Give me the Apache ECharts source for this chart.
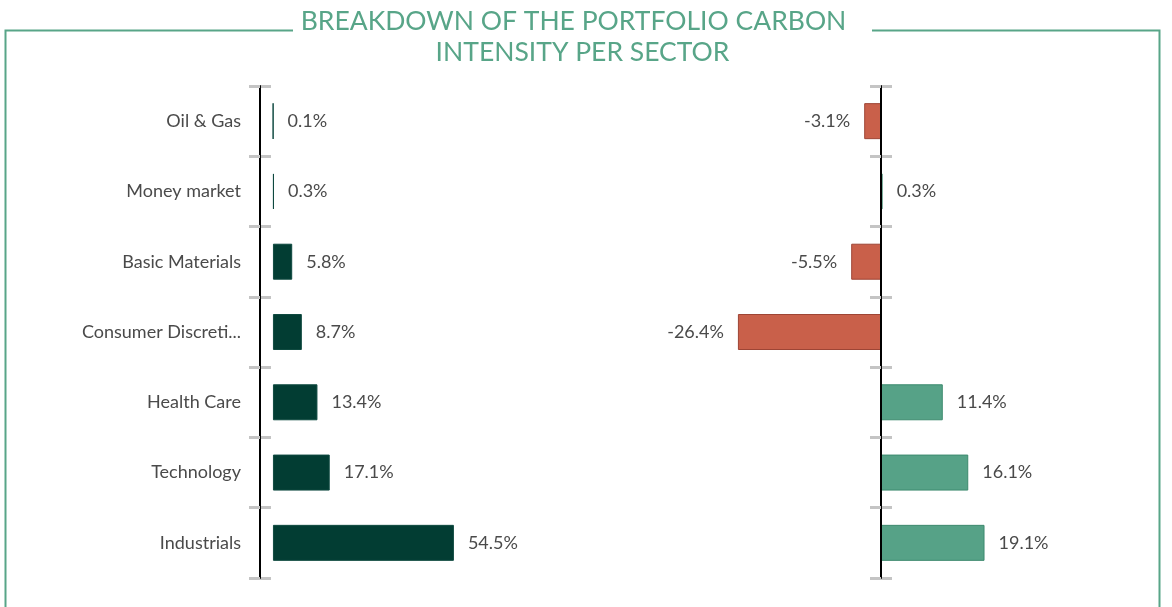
<!DOCTYPE html>
<html>
<head>
<meta charset="utf-8">
<script src="https://cdn.jsdelivr.net/npm/echarts@6/dist/echarts.min.js"></script>
<style>html,body{margin:0;padding:0;background:#fff}#c{width:1172px;height:607px}</style>
</head>
<body>
<div id="c"></div>
<script>
const categories = ['Oil & Gas', 'Money market', 'Basic Materials', 'Consumer Discretionary', 'Health Care', 'Technology', 'Industrials'];
const leftValues = [0.1, 0.3, 5.8, 8.7, 13.4, 17.1, 54.5];
const rightValues = [-3.1, 0.3, -5.5, -26.4, 11.4, 16.1, 19.1];
const titleLines = ['BREAKDOWN OF THE PORTFOLIO CARBON', 'INTENSITY PER SECTOR'];

const GREEN = '#58a588';
const FONT = 'Lato';
const labelColor = '#4a4a4a';

const chart = echarts.init(document.getElementById('c'));

function tickAxis(gridIndex, inside, main, onZero) {
  return {
    type: 'category', gridIndex: gridIndex, data: categories, inverse: true,
    position: 'left',
    axisLine: { show: main, onZero: onZero, lineStyle: { color: '#000', width: 2 } },
    axisTick: { show: true, inside: inside, length: 11, lineStyle: { color: '#c4c4c4', width: 3 } },
    axisLabel: main && gridIndex === 0 ? {
      show: true, margin: 19, fontFamily: FONT, fontSize: 18, color: labelColor,
      width: 166, overflow: 'truncate', ellipsis: '...'
    } : { show: false },
    z: main ? 3 : 2
  };
}

const rightData = rightValues.map(v => ({
  value: v,
  itemStyle: v < 0 ? { color: '#c9604a', borderColor: '#9e4535', borderWidth: 1 }
                   : { color: '#56a287', borderColor: '#3d8a6e', borderWidth: 1 },
  label: { position: v < 0 ? 'left' : 'right' }
}));

const labelStyle = { show: true, distance: 14, fontFamily: FONT, fontSize: 18, color: labelColor, formatter: p => p.value.toFixed(1) + '%' };

chart.setOption({
  animation: false,
  graphic: [
    { type: 'polyline', shape: { points: [[293, 30.5], [5.5, 30.5], [5.5, 640]] }, style: { stroke: GREEN, lineWidth: 2, fill: null } },
    { type: 'polyline', shape: { points: [[872, 30.5], [1159.5, 30.5], [1159.5, 640]] }, style: { stroke: GREEN, lineWidth: 2, fill: null } },
    { type: 'text', x: 573.5, y: 21.5, style: { text: titleLines[0], font: '26.5px Lato', fill: GREEN, align: 'center', verticalAlign: 'middle' } },
    { type: 'text', x: 582.5, y: 52, style: { text: titleLines[1], font: '26.5px Lato', fill: GREEN, align: 'center', verticalAlign: 'middle' } }
  ],
  grid: [
    { left: 260, top: 86, width: 345, height: 492 },
    { left: 718.4, top: 86, width: 325.2, height: 492 },
    { left: 881, top: 86, width: 100, height: 492 }
  ],
  xAxis: [
    { type: 'value', gridIndex: 0, min: -3.9, max: 100, show: false },
    { type: 'value', gridIndex: 1, min: -30, max: 30, show: false },
    { type: 'value', gridIndex: 2, min: 0, max: 10, show: false }
  ],
  yAxis: [
    tickAxis(0, false, true, false),
    tickAxis(0, true, false, false),
    tickAxis(1, false, true, true),
    tickAxis(2, true, false, false)
  ],
  series: [
    {
      type: 'bar', xAxisIndex: 0, yAxisIndex: 0, data: leftValues, barWidth: 36,
      itemStyle: { color: '#023d33', borderColor: '#0f4a40', borderWidth: 1 },
      label: Object.assign({ position: 'right' }, labelStyle),
      z: 4
    },
    {
      type: 'bar', xAxisIndex: 1, yAxisIndex: 2, data: rightData, barWidth: 36,
      label: labelStyle,
      z: 1
    }
  ]
});
</script>
</body>
</html>
